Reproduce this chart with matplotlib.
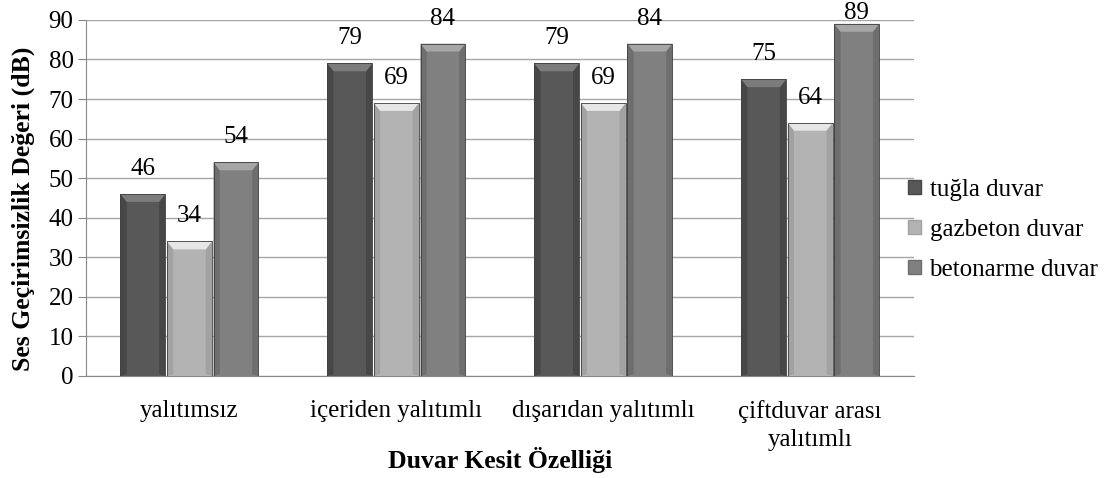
import numpy as np
import matplotlib.pyplot as plt
from matplotlib.patches import Rectangle, Polygon, Patch

plt.rcParams['font.family'] = ['Liberation Serif', 'DejaVu Serif']

categories = ['yalıtımsız', 'içeriden yalıtımlı', 'dışarıdan yalıtımlı', 'çiftduvar arası\nyalıtımlı']
series_names = ['tuğla duvar', 'gazbeton duvar', 'betonarme duvar']
tugla = [46, 79, 79, 75]
gazbeton = [34, 69, 69, 64]
betonarme = [54, 84, 84, 89]

# base, side, top bevel colours per series
colors = [('#585858', '#474747', '#7c7c7c'),
          ('#b3b3b3', '#a2a2a2', '#e6e6e6'),
          ('#808080', '#6e6e6e', '#a6a6a6')]

W, H = 1117, 478
ax_rect = [0.077, 0.2134, 0.741, 0.745]
fig = plt.figure(figsize=(W / 100, H / 100), dpi=100)
ax = fig.add_axes(ax_rect)
ymax = 90
px_per_unit = ax_rect[3] * H / ymax
top_px = (1 - ax_rect[1] - ax_rect[3]) * H

width = 0.217
offsets = [-0.225, 0.0, 0.225]
x = np.arange(len(categories))

def bevel_bar(ax, xc, h, cols):
    base, side, top = cols
    x0 = xc - width / 2
    dx = 0.03
    dh = 2.0
    ax.add_patch(Rectangle((x0, 0), width, h, facecolor=base, edgecolor='none', zorder=3))
    # darker sides
    ax.add_patch(Polygon([(x0, 0), (x0 + dx, 0.5), (x0 + dx, h - dh), (x0, h)],
                         facecolor=side, edgecolor='none', zorder=3))
    ax.add_patch(Polygon([(x0 + width, 0), (x0 + width - dx, 0.5), (x0 + width - dx, h - dh), (x0 + width, h)],
                         facecolor=side, edgecolor='none', zorder=3))
    # lighter top bevel
    ax.add_patch(Polygon([(x0, h), (x0 + width, h), (x0 + width - dx, h - dh), (x0 + dx, h - dh)],
                         facecolor=top, edgecolor='none', zorder=3))
    ax.add_patch(Rectangle((x0, 0), width, h, facecolor='none', edgecolor='#3f3f3f', linewidth=0.6, zorder=4))

for vals, off, cols in zip([tugla, gazbeton, betonarme], offsets, colors):
    for xi, v in zip(x, vals):
        bevel_bar(ax, xi + off, v, cols)
        # keep the label inside the figure when the bar is near the top
        headroom = top_px + (ymax - v) * px_per_unit
        off_px = min(19, headroom - 19)
        ax.annotate(str(v), (xi + off, v), xytext=(0, off_px * 0.72), textcoords='offset points',
                    ha='center', va='baseline', fontsize=18, zorder=5, annotation_clip=False)

ax.set_xlim(-0.5, 3.5)
ax.set_ylim(0, ymax)
ax.set_yticks(np.arange(0, 91, 10))
ax.set_xticks(x)
ax.set_xticklabels(categories, fontsize=18, linespacing=1.35)
ax.tick_params(axis='x', length=0, pad=17)
ax.tick_params(axis='y', labelsize=18, length=6, color='#888888', pad=3)
ax.yaxis.grid(True, color='#a6a6a6', linewidth=1.0, zorder=0)
ax.set_axisbelow(True)
for s in ['top', 'right']:
    ax.spines[s].set_visible(False)
for s in ['left', 'bottom']:
    ax.spines[s].set_color('#888888')

ax.set_ylabel('Ses Geçirimsizlik Değeri (dB)', fontsize=18.5, fontweight='bold', labelpad=0)
ax.yaxis.set_label_coords(-0.062, 0.47)
ax.set_xlabel('Duvar Kesit Özelliği', fontsize=18.5, fontweight='bold')
ax.xaxis.set_label_coords(0.5, -0.2)

handles = [Patch(facecolor=c[0], edgecolor=c[1]) for c in colors]
fig.legend(handles, series_names, loc='center left', bbox_to_anchor=(0.793, 0.519),
           frameon=False, fontsize=18, handlelength=0.5, handleheight=0.5,
           handletextpad=0.35, labelspacing=0.72)

fig.savefig('out.png', dpi=100)
